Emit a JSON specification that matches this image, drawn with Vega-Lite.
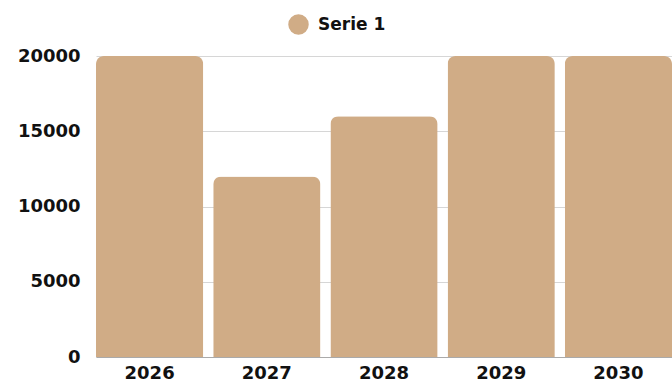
{
  "$schema": "https://vega.github.io/schema/vega-lite/v6.json",
  "autosize": {"type": "none"},
  "padding": {"left": 96, "top": 56, "right": 0, "bottom": 28},
  "width": 576,
  "height": 301,
  "background": "white",
  "config": {
    "font": "DejaVu Sans",
    "view": {"stroke": null}
  },
  "data": {
    "values": [
      {"year": "2026", "value": 20000, "series": "Serie 1"},
      {"year": "2027", "value": 12000, "series": "Serie 1"},
      {"year": "2028", "value": 16000, "series": "Serie 1"},
      {"year": "2029", "value": 20000, "series": "Serie 1"},
      {"year": "2030", "value": 20000, "series": "Serie 1"}
    ]
  },
  "mark": {"type": "bar", "cornerRadiusTopLeft": 8, "cornerRadiusTopRight": 8},
  "encoding": {
    "x": {
      "field": "year", "type": "nominal", "title": null,
      "scale": {"paddingInner": 0.085, "paddingOuter": 0},
      "axis": {"labelAngle": 0, "labelFont": "DejaVu Sans", "labelFontSize": 18, "labelFontWeight": "bold", "labelColor": "#111111", "ticks": false, "domain": true, "domainColor": "#aaaaaa", "labelPadding": 7}
    },
    "y": {
      "field": "value", "type": "quantitative", "title": null,
      "scale": {"domain": [0, 20000]},
      "axis": {"values": [0, 5000, 10000, 15000, 20000], "format": "d", "labelFont": "DejaVu Sans", "labelFontSize": 18, "labelFontWeight": "bold", "labelColor": "#111111", "ticks": false, "domain": false, "gridColor": "#d6d6d6", "labelPadding": 16}
    },
    "color": {
      "field": "series", "type": "nominal",
      "scale": {"range": ["#D0AC86"]},
      "legend": {"title": null, "orient": "none", "legendX": 192, "legendY": -42, "direction": "horizontal", "symbolType": "circle", "symbolSize": 420, "symbolStrokeWidth": 0, "labelFont": "DejaVu Sans", "labelFontSize": 17, "labelFontWeight": "bold", "labelColor": "#111111", "labelOffset": 9}
    }
  }
}
